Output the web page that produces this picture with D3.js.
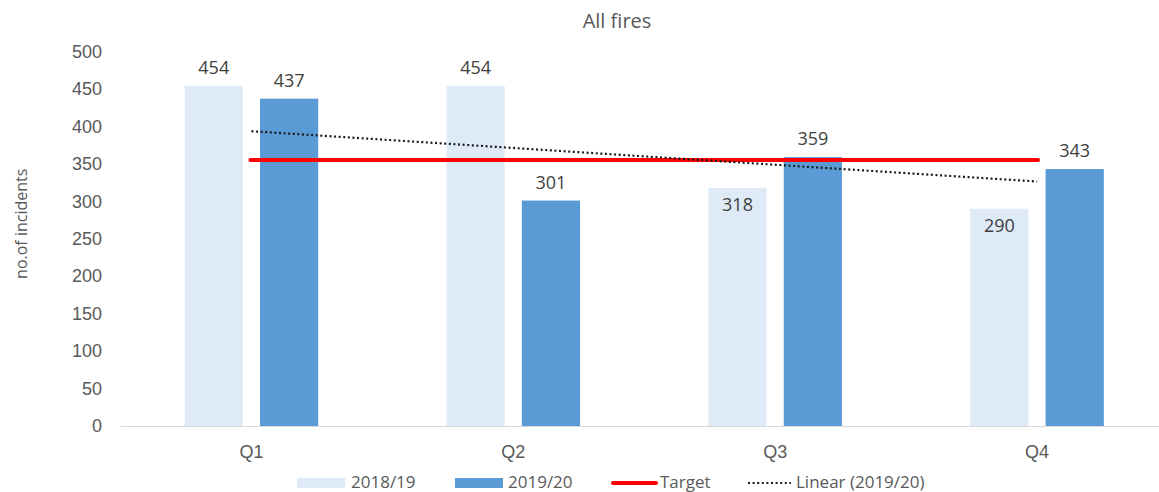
<!DOCTYPE html>
<html><head><meta charset="utf-8">
<script src="https://cdn.jsdelivr.net/npm/d3@7"></script>
<style>body{margin:0;background:#fff;}svg{display:block;font-family:"Open Sans","Noto Sans",sans-serif;}</style>
</head><body>
<svg id="c" width="1159" height="492"></svg>
<script>
const categories = ["Q1","Q2","Q3","Q4"];
const seriesNames = ["2018/19","2019/20"];
const values1819 = [454,454,318,290];
const values1920 = [437,301,359,343];
const targetValue = 355;
const yTicks = [0,50,100,150,200,250,300,350,400,450,500];
const title = "All fires";
const yLabel = "no.of incidents";
const legendLabels = ["2018/19","2019/20","Target","Linear (2019/20)"];

const svg = d3.select("#c");
const W = 1159, H = 492;
const x0 = 120.5, x1 = 1168, yTop = 51.5, yBot = 426;
const x = d3.scaleBand().domain(categories).range([x0, x1]).paddingInner(0.49).paddingOuter(0.245);
const xs = d3.scaleBand().domain(seriesNames).range([0, x.bandwidth()]).paddingInner(0.227);
const y = d3.scaleLinear().domain([0,500]).range([yBot, yTop]);
const colors = {"2018/19":"#deebf7","2019/20":"#5b9bd5"};
const textCol = "#595959";

// title
svg.append("text").attr("x", 617).attr("y", 28).attr("text-anchor","middle")
  .attr("font-size", 20).attr("fill", textCol).text(title);

// y axis labels
const ya = svg.append("g").attr("transform", `translate(${102},0)`)
  .call(d3.axisLeft(y).tickValues(yTicks).tickSize(0).tickPadding(0));
ya.select(".domain").remove();
ya.selectAll("text").attr("font-size", 18).attr("fill", textCol).attr("font-family","inherit");

svg.append("text").attr("transform", `translate(27,${(yTop+yBot)/2-15}) rotate(-90)`)
  .attr("text-anchor","middle").attr("font-size",16).attr("fill",textCol).text(yLabel);

// bars
const data = categories.map((c,i)=>({cat:c, vals:[{s:"2018/19",v:values1819[i]},{s:"2019/20",v:values1920[i]}]}));
const g = svg.append("g");
const grp = g.selectAll("g.cat").data(data).join("g").attr("transform", d=>`translate(${x(d.cat)},0)`);
grp.selectAll("rect").data(d=>d.vals).join("rect")
  .attr("x", d=>xs(d.s)).attr("width", xs.bandwidth())
  .attr("y", d=>y(d.v)).attr("height", d=>yBot - y(d.v))
  .attr("fill", d=>colors[d.s]);

// x axis
svg.append("line").attr("x1", x0).attr("x2", W).attr("y1", yBot+0.5).attr("y2", yBot+0.5)
  .attr("stroke", "#d9d9d9").attr("stroke-width", 1);
const xa = svg.append("g").attr("transform", `translate(0,${yBot})`)
  .call(d3.axisBottom(x).tickSize(0).tickPadding(19));
xa.select(".domain").remove();
xa.selectAll("text").attr("font-size",18).attr("fill",textCol).attr("font-family","inherit");

// target line
const cx = c => x(c) + x.bandwidth()/2;
svg.append("line").attr("x1", cx("Q1")-1).attr("x2", cx("Q4")+1)
  .attr("y1", y(targetValue)).attr("y2", y(targetValue))
  .attr("stroke","#ff0000").attr("stroke-width",4).attr("stroke-linecap","round");

// linear trend of 2019/20 (least squares)
const n = values1920.length;
const xsIdx = values1920.map((_,i)=>i+1);
const mx = d3.mean(xsIdx), my = d3.mean(values1920);
const slope = d3.sum(xsIdx.map((xi,i)=>(xi-mx)*(values1920[i]-my))) / d3.sum(xsIdx.map(xi=>(xi-mx)**2));
const icpt = my - slope*mx;
const trend = categories.map((c,i)=>({c, v: icpt + slope*(i+1)}));
svg.append("path").datum([trend[0], trend[n-1]])
  .attr("d", d3.line().x(d=>cx(d.c)).y(d=>y(d.v)))
  .attr("fill","none").attr("stroke","#1a1a1a").attr("stroke-width",2.2).attr("stroke-dasharray","2 2.6");

// data labels
grp.selectAll("text.lbl").data(d=>d.vals).join("text").attr("class","lbl")
  .attr("x", d=>xs(d.s)+xs.bandwidth()/2)
  .attr("y", d=> (d.s==="2018/19" && d.v<400) ? y(d.v)+23 : y(d.v)-12)
  .attr("text-anchor","middle").attr("font-size",18).attr("fill","#404040").text(d=>d.v);

// legend
const ly = 483;
const lg = svg.append("g");
const items = [
  {t:"rect", c:colors["2018/19"], x:297, tx:351},
  {t:"rect", c:colors["2019/20"], x:455, tx:508},
  {t:"line", c:"#ff0000", x:613, tx:660},
  {t:"dot", c:"#1a1a1a", x:748, tx:796}
];
items.forEach((it,i)=>{
  if (it.t==="rect") lg.append("rect").attr("x",it.x).attr("y",ly-5).attr("width",48).attr("height",10).attr("fill",it.c);
  else if (it.t==="line") lg.append("line").attr("x1",it.x).attr("x2",it.x+43).attr("y1",ly).attr("y2",ly).attr("stroke",it.c).attr("stroke-width",4).attr("stroke-linecap","round");
  else lg.append("line").attr("x1",it.x).attr("x2",it.x+43).attr("y1",ly).attr("y2",ly).attr("stroke",it.c).attr("stroke-width",2).attr("stroke-dasharray","2 2.6");
  lg.append("text").attr("x",it.tx).attr("y",ly+5).attr("font-size",17).attr("fill",textCol).text(legendLabels[i]);
});
</script>
</body></html>
